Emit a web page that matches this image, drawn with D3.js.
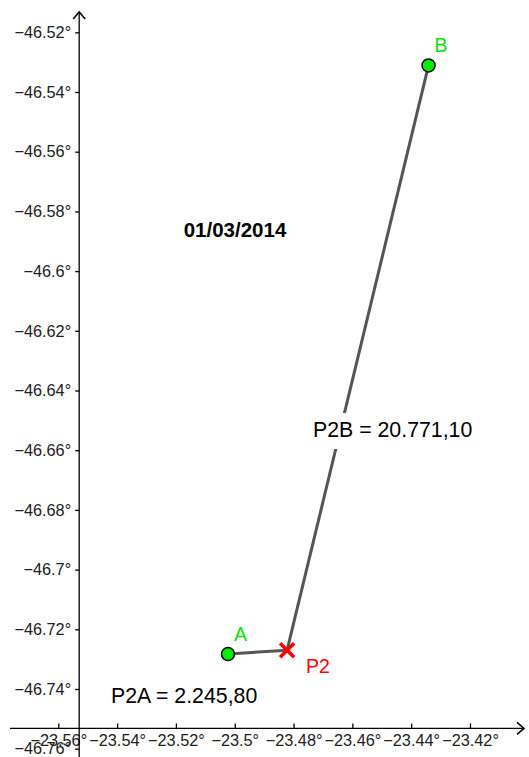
<!DOCTYPE html>
<html>
<head>
<meta charset="utf-8">
<script src="https://cdn.jsdelivr.net/npm/d3@7"></script>
<style>
  body { margin: 0; background: #fff; }
  svg { display: block; font-family: "Liberation Sans", Arial, sans-serif; }
</style>
</head>
<body>
<div id="chart"></div>
<script>
// data
var xTicks = [-23.56, -23.54, -23.52, -23.5, -23.48, -23.46, -23.44, -23.42];
var yTicks = [-46.52, -46.54, -46.56, -46.58, -46.6, -46.62, -46.64, -46.66, -46.68, -46.7, -46.72, -46.74, -46.76];
var pointNames = ["A", "B"];
var pointX = [-23.5023, -23.4341];
var pointY = [-46.7283, -46.5311];
var p2 = {name: "P2", x: -23.4822, y: -46.7270};
var distLabels = ["P2A = 2.245,80", "P2B = 20.771,10"];
var dateLabel = "01/03/2014";
var axisCross = {x: -23.5529, y: -46.7532};

var width = 529, height = 757;

var svg = d3.select("#chart")
    .append("svg")
        .attr("width", width)
        .attr("height", height);

var x = d3.scaleLinear()
    .domain([-23.56, -23.42])
    .range([58.3, 470.0]);
var y = d3.scaleLinear()
    .domain([-46.52, -46.76])
    .range([32.3, 748.7]);

var fmt = function(d) { return String(d).replace("-", "\u2212") + "°"; };

// x axis
var ax = x(axisCross.x), ay = y(axisCross.y);
var gx = svg.append("g")
    .attr("transform", "translate(0," + ay + ")")
    .call(d3.axisBottom(x).tickValues(xTicks).tickFormat(fmt).tickSizeInner(-5).tickSizeOuter(0).tickPadding(6));
gx.select(".domain").remove();

// y axis
var gy = svg.append("g")
    .attr("transform", "translate(" + ax + ",0)")
    .call(d3.axisLeft(y).tickValues(yTicks).tickFormat(fmt).tickSizeInner(4).tickSizeOuter(0).tickPadding(4));
gy.select(".domain").remove();

svg.selectAll(".tick line").attr("stroke", "#000").attr("stroke-width", 1.3);
svg.selectAll(".tick text").attr("fill", "#222").style("font-size", "16.3px")
    .style("font-family", "Liberation Sans, Arial, sans-serif");

// axis lines with open arrows
svg.append("line").attr("x1", 10).attr("x2", 524).attr("y1", ay).attr("y2", ay)
    .attr("stroke", "#000").attr("stroke-width", 1.3);
svg.append("path").attr("d", "M" + 517 + "," + (ay - 6) + "L" + 524 + "," + ay + "L" + 517 + "," + (ay + 6))
    .attr("fill", "none").attr("stroke", "#000").attr("stroke-width", 1.5);
svg.append("line").attr("x1", ax).attr("x2", ax).attr("y1", height).attr("y2", 12)
    .attr("stroke", "#000").attr("stroke-width", 1.3);
svg.append("path").attr("d", "M" + (ax - 6) + ",19L" + ax + ",12L" + (ax + 6) + ",19")
    .attr("fill", "none").attr("stroke", "#000").attr("stroke-width", 1.5);

// segments from P2 to each point
svg.append("g")
    .selectAll("line")
    .data(pointNames)
    .enter()
    .append("line")
        .attr("x1", x(p2.x))
        .attr("y1", y(p2.y))
        .attr("x2", (d, i) => x(pointX[i]))
        .attr("y2", (d, i) => y(pointY[i]))
        .attr("stroke", "#555")
        .attr("stroke-width", 3);

// distance label for P2B with white box over the segment
svg.append("rect").attr("x", 308).attr("y", 413).attr("width", 170).attr("height", 36).attr("fill", "#fff");
svg.append("text").attr("x", 313).attr("y", 437).text(distLabels[1])
    .style("font-size", "21.3px").attr("fill", "#000");
svg.append("text").attr("x", 111).attr("y", 703).text(distLabels[0])
    .style("font-size", "21.3px").attr("fill", "#000");

// date
svg.append("text").attr("x", 235).attr("y", 237).attr("text-anchor", "middle")
    .text(dateLabel).style("font-size", "20.5px").style("font-weight", "bold");

// points
svg.append("g")
    .selectAll("circle")
    .data(pointNames)
    .enter()
    .append("circle")
        .attr("cx", (d, i) => x(pointX[i]))
        .attr("cy", (d, i) => y(pointY[i]))
        .attr("r", 6.5)
        .attr("fill", "#00ee00")
        .attr("stroke", "#000")
        .attr("stroke-width", 1.5);

svg.append("g")
    .selectAll("text")
    .data(pointNames)
    .enter()
    .append("text")
        .attr("x", (d, i) => x(pointX[i]) + 6)
        .attr("y", (d, i) => y(pointY[i]) - 13)
        .text(d => d)
        .attr("fill", "#11dd11")
        .style("font-size", "19.5px");

// P2 cross
var cx = x(p2.x), cy = y(p2.y);
svg.append("path")
    .attr("d", "M" + (cx - 7) + "," + (cy - 7) + "L" + (cx + 7) + "," + (cy + 7) +
               "M" + (cx - 7) + "," + (cy + 7) + "L" + (cx + 7) + "," + (cy - 7))
    .attr("stroke", "#ff0000").attr("stroke-width", 3.5).attr("fill", "none");
svg.append("text").attr("x", cx + 19).attr("y", cy + 23).text(p2.name)
    .attr("fill", "#ff0000").style("font-size", "19.5px");
</script>
</body>
</html>
